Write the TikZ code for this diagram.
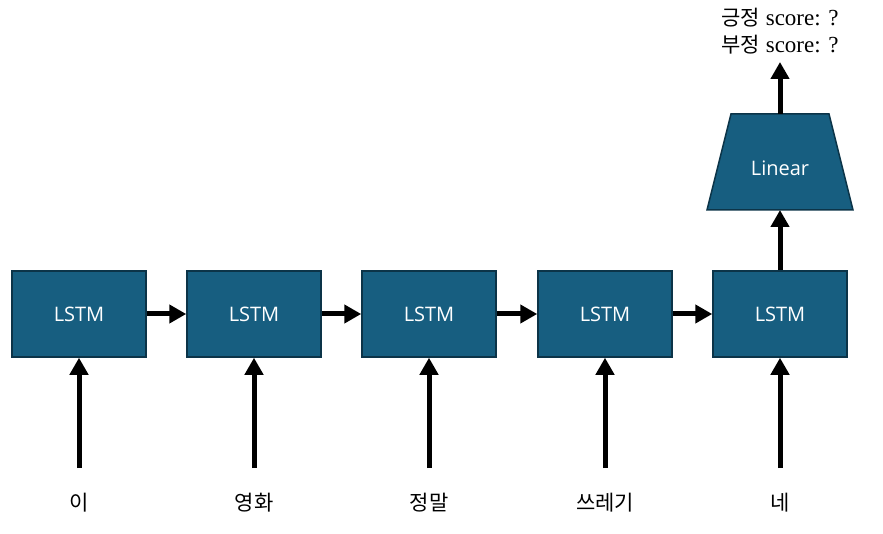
\documentclass[tikz,border=0pt]{standalone}
\usepackage{fontspec}
\setmainfont{Liberation Serif}
\newfontfamily\krfont{Noto Sans CJK KR}
\newfontfamily\boxfont{Open Sans}
\usetikzlibrary{arrows.meta,shapes.geometric}
\definecolor{boxfill}{RGB}{23,94,128}
\definecolor{boxedge}{RGB}{12,52,72}
\tikzset{
  lstm/.style={draw=boxedge,fill=boxfill,line width=1.5pt,minimum width=134pt,minimum height=86pt,inner sep=0pt,text=white,font=\boxfont\fontsize{20}{24}\selectfont},
  arr/.style={line width=5pt,-{Triangle[length=17pt,width=18pt]}},
  word/.style={font=\krfont\fontsize{21}{24}\selectfont,inner sep=0pt},
}
\begin{document}
\begin{tikzpicture}[x=1pt,y=-1pt]
\useasboundingbox (0,0) rectangle (883,534);
\foreach \i/\x/\w in {1/79/이,2/254/영화,3/429/정말,4/605/쓰레기,5/780/네}{
  \node[lstm] (l\i) at (\x,314) {LSTM};
  \node[word] (w\i) at (\x,503) {\w};
  \coordinate (s\i) at (\x,468);
  \draw[arr] (s\i) -- (l\i.south);
}
\foreach \a/\b in {1/2,2/3,3/4,4/5}{
  \draw[arr] (l\a.east) -- (l\b.west);
}
\draw[draw=boxedge,fill=boxfill,line width=1.5pt] (731,114) -- (829,114) -- (853,210) -- (707,210) -- cycle;
\node[text=white,font=\boxfont\fontsize{20}{24}\selectfont,inner sep=0pt] (lin) at (780,168) {Linear};
\coordinate (lint) at (780,114);
\coordinate (linb) at (780,210);
\coordinate (outp) at (780,62);
\draw[arr] (l5.north) -- (linb);
\draw[arr] (lint) -- (outp);
\node[align=left,inner sep=0pt,font=\fontsize{23}{27}\selectfont] (out) at (780,31) {{\krfont\fontsize{21}{27}\selectfont 긍정} score: ?\\{\krfont\fontsize{21}{27}\selectfont 부정} score: ?};
\end{tikzpicture}
\end{document}
